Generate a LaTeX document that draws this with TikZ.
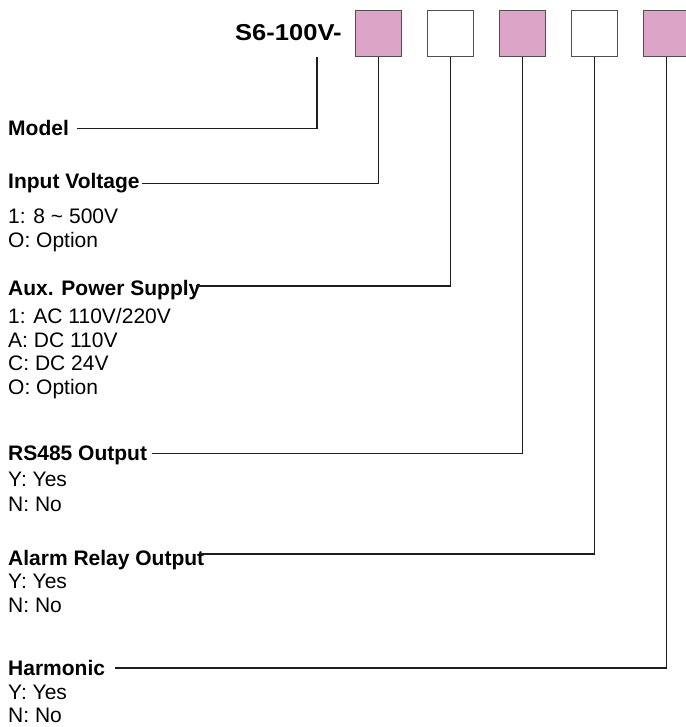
\documentclass[tikz,border=0pt]{standalone}
\usepackage{fontspec}
\usepackage{graphicx}
\setmainfont{Liberation Sans}
\definecolor{boxpink}{RGB}{220,165,200}
\definecolor{boxgray}{RGB}{80,80,80}
\definecolor{leadgray}{RGB}{30,30,30}
\tikzset{
  codebox/.style={draw=boxgray, line width=1.4pt, minimum width=46pt, minimum height=46pt, inner sep=0pt, anchor=north west},
  pinkbox/.style={codebox, fill=boxpink},
  whitebox/.style={codebox, fill=white},
  title/.style={anchor=base west, inner sep=0pt, font=\bfseries\fontsize{21}{25}\selectfont},
  item/.style={anchor=base west, inner sep=0pt, font=\fontsize{21}{25}\selectfont},
  lead/.style={line width=1.1pt, draw=leadgray}
}
\begin{document}
\begin{tikzpicture}[x=1pt,y=-1pt]
\useasboundingbox (0,0) rectangle (685,727);
% header
\node[anchor=base west, inner sep=0pt, font=\bfseries\fontsize{23}{27}\selectfont] (code) at (235,41) {\scalebox{1.11}[1]{S6-100V-}};
\node[pinkbox]  (b1) at (355,10) {};
\node[whitebox] (b2) at (427,10) {};
\node[pinkbox]  (b3) at (499,10) {};
\node[whitebox] (b4) at (571,10) {};
\node[pinkbox]  (b5) at (643,10) {};
% titles
\node[title] (model) at (8,136) {Model};
\node[title] (inv) at (8,189) {Input Voltage};
\node[item] (inv1) at (8,223.3) {1: 8 \char`~\ 500V};
\node[item] (inv2) at (8,247.5) {O: Option};
\node[title] (aux) at (8,295) {Aux. Power Supply};
\node[item] (aux1) at (8,323.3) {1: AC 110V/220V};
\node[item] (aux2) at (8,347) {A: DC 110V};
\node[item] (aux3) at (8,370.8) {C: DC 24V};
\node[item] (aux4) at (8,394.5) {O: Option};
\node[title] (rs) at (8,460.7) {RS485 Output};
\node[item] (rs1) at (8,486.7) {Y: Yes};
\node[item] (rs2) at (8,511) {N: No};
\node[title] (alarm) at (8,565) {Alarm Relay Output};
\node[item] (alarm1) at (8,588.5) {Y: Yes};
\node[item] (alarm2) at (8,612.7) {N: No};
\node[title] (harm) at (8,675) {Harmonic};
\node[item] (harm1) at (8,699.3) {Y: Yes};
\node[item] (harm2) at (8,722.7) {N: No};
% leader lines
\coordinate (mstem) at (317,57);
\coordinate (ml) at (77,128.3);
\coordinate (il) at (141.7,183.3);
\coordinate (al) at (196,286);
\coordinate (rl) at (151.5,453.3);
\coordinate (ll) at (200,554);
\coordinate (hl) at (115,668);
\draw[lead] (ml) -| (mstem);
\draw[lead] (il) -| (b1.south);
\draw[lead] (al) -| (b2.south);
\draw[lead] (rl) -| (b3.south);
\draw[lead] (ll) -| (b4.south);
\draw[lead] (hl) -| (b5.south);
\end{tikzpicture}
\end{document}
